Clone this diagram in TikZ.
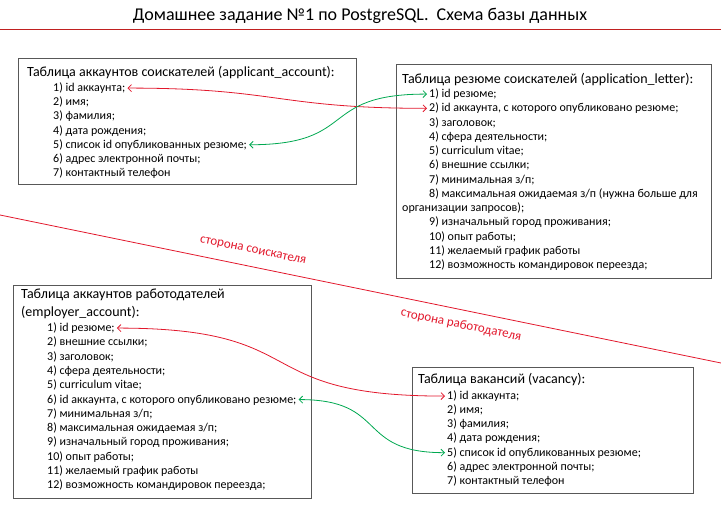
\documentclass[tikz,border=0pt]{standalone}
\usepackage{fontspec}
\setmainfont{Carlito}
\usetikzlibrary{arrows.meta}
\definecolor{titlered}{RGB}{192,32,32}
\definecolor{sidered}{RGB}{226,24,44}
\definecolor{linkgreen}{RGB}{0,168,80}
\definecolor{framegray}{RGB}{88,88,88}
\tikzstyle{frame}=[draw=framegray,line width=1pt,anchor=north west,inner sep=0pt]
\tikzstyle{hdr}=[anchor=base west,inner sep=2pt,font=\fontsize{14}{17}\selectfont]
\tikzstyle{fld}=[anchor=base west,inner sep=2pt,font=\fontsize{12}{14}\selectfont]
\tikzstyle{side}=[text=sidered,rotate=-11.6,font=\fontsize{13}{15}\selectfont]
\tikzstyle{redlink}=[draw=sidered,line width=0.8pt,{Straight Barb[length=3.5pt,width=7pt]}-{Straight Barb[length=3.5pt,width=7pt]}]
\tikzstyle{greenlink}=[draw=linkgreen,line width=0.8pt,{Straight Barb[length=3.5pt,width=7pt]}-{Straight Barb[length=3.5pt,width=7pt]}]

\begin{document}
\begin{tikzpicture}[x=1pt,y=-1pt]
\useasboundingbox (0,0) rectangle (721,514);

% title
\node[font=\fontsize{18}{22}\selectfont] (title) at (360,16) {Домашнее задание №1 по PostgreSQL.\ \ Схема базы данных};
\coordinate (tl) at (0,29);
\coordinate (tr) at (721,29);
\draw[titlered, line width=1pt] (tl) -- (tr);

% divider
\coordinate (dl) at (0,215);
\coordinate (dr) at (721,363);
\draw[sidered, line width=0.8pt] (dl) -- (dr);
\node[side] (seeker) at (253,251) {сторона соискателя};
\node[side] (employer) at (461,325) {сторона работодателя};

% frames
\node[frame, minimum width=338pt, minimum height=126pt] (applicant) at (18,58) {};
\node[frame, minimum width=315pt, minimum height=214pt] (letter) at (396,64) {};
\node[frame, minimum width=298pt, minimum height=213pt] (emp) at (13,285) {};
\node[frame, minimum width=281pt, minimum height=126pt] (vacancy) at (412,367) {};

% applicant_account
\node[hdr] (aah) at (25,76.5) {Таблица аккаунтов соискателей (applicant\_account):};
\foreach \txt [count=\i] in {{1) id аккаунта;},{2) имя;},{3) фамилия;},{4) дата рождения;},
  {5) список id опубликованных резюме;},{6) адрес электронной почты;},{7) контактный телефон}}
  \node[fld] (aa\i) at (51,{91.5+14.17*(\i-1)}) {\txt};

% application_letter
\node[hdr] (alh) at (400,83.5) {Таблица резюме соискателей (application\_letter):};
\foreach \txt [count=\i] in {{1) id резюме;},{2) id аккаунта, с которого опубликовано резюме;},
  {3) заголовок;},{4) сфера деятельности;},{5) curriculum vitae;},{6) внешние ссылки;},
  {7) минимальная з/п;},{8) максимальная ожидаемая з/п (нужна больше для}}
  \node[fld] (al\i) at (427,{97.5+14.25*(\i-1)}) {\txt};
\node[fld] (al8b) at (400,211.5) {организации запросов);};
\foreach \txt [count=\i from 9] in {{9) изначальный город проживания;},{10) опыт работы;},
  {11) желаемый график работы},{12) возможность командировок переезда;}}
  \node[fld] (al\i) at (427,{97.5+14.25*\i}) {\txt};

% employer_account
\node[hdr] (eah) at (19,298.5) {Таблица аккаунтов работодателей};
\node[hdr] (eah2) at (19,316.5) {(employer\_account):};
\foreach \txt [count=\i] in {{1) id резюме;},{2) внешние ссылки;},{3) заголовок;},
  {4) сфера деятельности;},{5) curriculum vitae;},{6) id аккаунта, с которого опубликовано резюме;},
  {7) минимальная з/п;},{8) максимальная ожидаемая з/п;},{9) изначальный город проживания;},
  {10) опыт работы;},{11) желаемый график работы},{12) возможность командировок переезда;}}
  \node[fld] (ea\i) at (45,{331.5+14.3*(\i-1)}) {\txt};

% vacancy
\node[hdr] (vch) at (416,383.5) {Таблица вакансий (vacancy):};
\foreach \txt [count=\i] in {{1) id аккаунта;},{2) имя;},{3) фамилия;},{4) дата рождения;},
  {5) список id опубликованных резюме;},{6) адрес электронной почты;},{7) контактный телефон}}
  \node[fld] (vc\i) at (445,{399.5+14.15*(\i-1)}) {\txt};

% links
\draw[redlink] (aa1.east) .. controls +(150,0) and +(-150,0) .. (al2.west);
\draw[greenlink] (aa5.east) .. controls +(110,0) and +(-110,0) .. (al1.west);
\draw[redlink] (ea1.east) .. controls +(200,0) and +(-200,0) .. (vc1.west);
\draw[greenlink] (ea6.east) .. controls +(90,0) and +(-90,0) .. (vc5.west);

\end{tikzpicture}
\end{document}
